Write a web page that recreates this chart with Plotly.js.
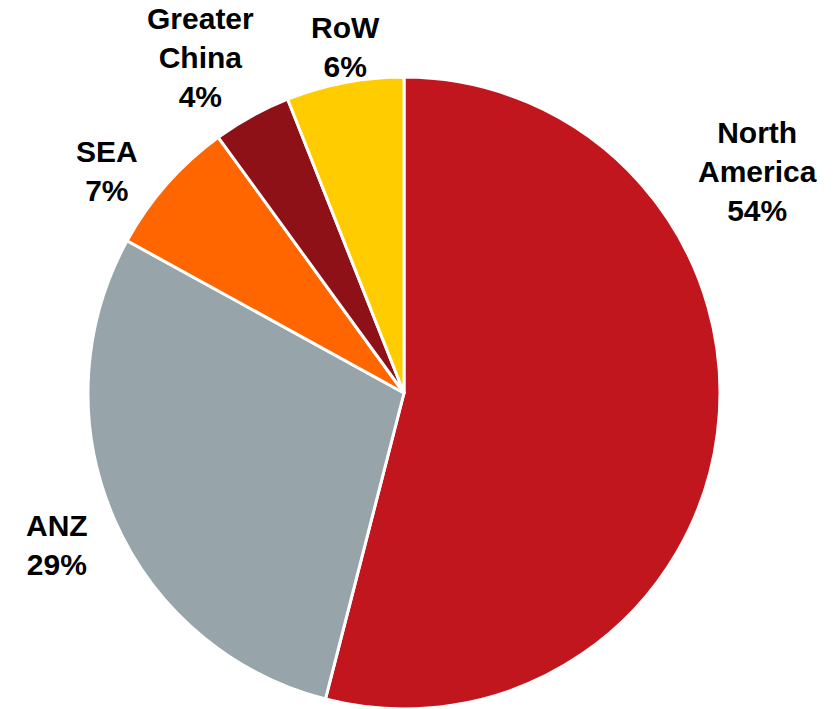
<!DOCTYPE html>
<html>
<head>
<meta charset="utf-8">
<script src="https://cdn.plot.ly/plotly-3.0.1.min.js"></script>
<style>html,body{margin:0;padding:0;background:#fff;}#chart{width:835px;height:709px;}</style>
</head>
<body>
<div id="chart"></div>
<script>
const regions = ["North America", "ANZ", "SEA", "Greater China", "RoW"];
const displayLabels = ["North<br>America", "ANZ", "SEA", "Greater<br>China", "RoW"];
const shares = [54, 29, 7, 4, 6];
const colors = ["#C1161D", "#97A4A9", "#FF6600", "#8E1117", "#FFCC00"];

// label anchor positions in pixels (layout only)
const labelPx = [[757, 171], [57, 545], [107, 171], [200, 58], [345, 47]];

const W = 835, H = 709;
const total = shares.reduce((a, b) => a + b, 0);

const annotations = regions.map((r, i) => ({
  text: "<b>" + displayLabels[i] + "<br>" + Math.round(shares[i] / total * 100) + "%</b>",
  xref: "paper", yref: "paper",
  x: labelPx[i][0] / W, y: 1 - labelPx[i][1] / H,
  xanchor: "center", yanchor: "middle",
  showarrow: false,
  align: "center",
  font: {family: "Liberation Sans, Arial, sans-serif", size: 30, color: "#000"}
}));

const cx = 404, cy = 394, R = 317;
const trace = {
  type: "pie",
  labels: regions,
  values: shares,
  sort: false,
  direction: "clockwise",
  rotation: 0,
  textinfo: "none",
  hoverinfo: "label+percent",
  marker: {colors: colors, line: {color: "#ffffff", width: 3}},
  domain: {x: [(cx - R) / W, (cx + R) / W], y: [Math.max(0, 1 - (cy + R) / H), 1 - (cy - R) / H]}
};

Plotly.newPlot("chart", [trace], {
  width: W, height: H,
  margin: {l: 0, r: 0, t: 0, b: 0},
  showlegend: false,
  paper_bgcolor: "#fff",
  annotations: annotations
}, {displayModeBar: false, staticPlot: true});
</script>
</body>
</html>
